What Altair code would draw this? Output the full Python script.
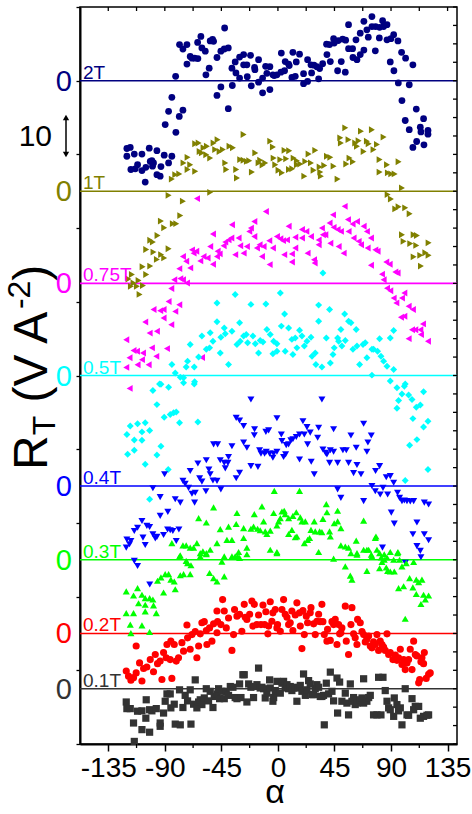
import altair as alt
import pandas as pd

series_names = ["2T", "1T", "0.75T", "0.5T", "0.4T", "0.3T", "0.2T", "0.1T"]
series_colors = ["#000080", "#808000", "#FF00FF", "#00FFFF", "#0000FF", "#00FF00", "#FF0000", "#000000"]
line_colors = ["#000080", "#808000", "#FF00FF", "#00FFFF", "#0000FF", "#00FF00", "#FF0000", "#333333"]
series_shapes = ["circle", "triangle-right", "triangle-left", "diamond", "triangle-down", "triangle-up", "circle", "square"]
series_sizes = [46, 52, 52, 50, 52, 52, 46, 38]
series_base = [180, 150, 125, 100, 70, 50, 30, 15]

# (alpha in degrees, R_T offset from the series' zero line)
pts_2T = [(-120.2,-18.4),(-117.5,-18.1),(-120.2,-20.5),(-114.3,-19.9),(-117.0,-24.1),(-113.5,-23.9),(-111.7,-22.8),(-108.2,-19.9),(-108.2,-24.4),(-105.1,-23.5),(-102.4,-18.3),(-101.6,-21.9),(-100.3,-21.7),(-99.0,-22.3),(-99.8,-23.2),(-96.3,-19.0),(-96.3,-25.5),(-93.7,-25.9),(-93.1,-23.3),(-90.5,-20.2),(-87.0,-22.3),(-84.4,-20.5),(-105.6,-27.5),(-89.7,-11.9),(-87.0,-8.3),(-84.4,-4.5),(-81.2,-14.0),(-78.5,-9.7),(-75.6,-8.0),(-81.4,1.2),(-78.3,9.8),(-75.6,8.6),(-72.4,9.8),(-72.4,4.5),(-69.8,6.6),(-68.4,6.1),(-66.3,6.1),(-63.7,6.0),(-63.9,10.4),(-61.3,12.0),(-60.5,8.9),(-57.8,8.0),(-57.3,1.6),(-54.7,3.4),(-53.9,10.8),(-52.0,11.2),(-51.2,10.7),(-48.5,6.3),(-48.5,-4.0),(-45.4,-1.7),(-42.4,14.3),(-45.4,8.0),(-42.7,8.6),(-39.5,8.9),(-39.5,-7.6),(-36.6,3.4),(-36.3,-1.3),(-34.0,5.1),(-33.4,2.1),(-30.5,6.4),(-30.5,0.7),(-27.3,7.1),(-27.3,4.3),(-24.7,4.3),(-24.4,1.1),(-21.8,6.9),(-21.2,-1.4),(-18.6,3.6),(-18.3,3.0),(-15.4,5.7),(-15.4,-0.4),(-12.2,0.7),(-12.2,-3.3),(-9.8,3.9),(-8.8,2.0),(-6.4,3.8),(-6.4,-2.4),(-4.0,1.6),(-2.9,1.4),(-0.8,1.6),(2.4,2.3),(2.7,7.5),(5.3,2.7),(5.8,5.2),(8.5,4.5),(9.0,4.1),(11.1,0.9),(11.9,7.7),(13.8,1.2),(14.6,5.1),(17.2,7.2),(20.4,1.9),(20.4,-0.8),(23.6,5.7),(23.6,-0.2),(26.3,4.3),(26.8,2.1),(28.7,4.2),(31.0,3.8),(32.4,0.5),(33.2,3.3),(35.6,4.6),(38.7,9.9),(39.0,7.1),(41.1,9.8),(41.7,5.2),(44.3,11.4),(44.8,10.2),(47.5,2.7),(48.0,10.9),(50.4,5.2),(51.5,11.3),(53.6,2.3),(53.9,11.0),(56.2,15.2),(56.2,8.7),(59.4,8.7),(59.7,6.3),(62.1,11.1),(62.9,5.7),(65.5,7.1),(65.5,12.9),(68.4,8.3),(68.4,16.1),(70.8,13.8),(71.9,11.8),(74.8,17.4),(74.8,14.7),(77.5,8.1),(77.7,14.7),(80.7,11.6),(80.9,14.5),(83.3,16.3),(84.1,14.7),(86.8,15.2),(86.8,11.1),(89.4,5.1),(89.9,11.4),(92.1,12.5),(92.3,2.7),(95.5,10.8),(95.8,-0.6),(98.4,7.7),(98.7,-5.4),(101.6,6.1),(101.3,-10.8),(104.5,-1.1),(104.5,-13.3),(107.4,4.3),(107.4,-18.1),(110.1,-7.7),(110.4,-16.5),(113.3,-12.6),(113.8,-13.9),(115.9,-10.3),(116.2,-17.4),(119.4,-13.5),(119.4,-14.5)]

pts_1T = [(-84.4,3.3),(-81.7,4.5),(-78.5,4.7),(-75.1,7.7),(-71.9,9.2),(-71.9,5.9),(-69.8,7.2),(-65.8,5.4),(-65.8,12.9),(-63.1,13.1),(-62.3,10.8),(-60.5,10.4),(-59.2,11.8),(-56.5,12.2),(-57.0,9.9),(-53.9,9.0),(-51.2,13.1),(-48.0,14.0),(-49.9,11.3),(-46.4,10.8),(-43.8,11.3),(-41.9,7.7),(-41.1,5.9),(-38.5,12.2),(-35.8,11.8),(-33.2,5.9),(-32.6,3.6),(-30.0,8.6),(-27.3,15.4),(-27.3,8.4),(-24.7,8.1),(-22.8,8.3),(-20.7,5.2),(-18.0,10.4),(-15.4,7.7),(-14.1,8.4),(-12.2,7.1),(-10.1,7.7),(-6.1,13.6),(-4.0,12.0),(-3.4,9.0),(-2.1,7.2),(0.5,5.7),(1.9,8.6),(3.2,5.0),(5.3,11.1),(6.6,8.8),(8.8,5.9),(9.0,11.0),(11.4,6.1),(12.5,9.0),(15.1,7.2),(15.1,8.3),(17.8,7.4),(21.0,4.1),(21.8,8.1),(24.4,10.1),(26.3,7.7),(28.4,5.7),(29.7,11.1),(33.2,6.6),(34.2,4.1),(33.7,5.2),(36.9,7.0),(39.0,9.5),(41.7,9.2),(44.3,6.8),(47.5,3.3),(49.6,14.5),(50.1,13.1),(53.6,17.2),(54.4,7.4),(56.2,14.0),(57.0,9.0),(59.7,8.0),(61.5,13.1),(62.9,12.2),(64.2,13.7),(66.1,16.3),(68.2,10.8),(70.8,13.6),(72.2,12.9),(74.8,16.7),(76.1,11.3),(78.8,12.7),(80.9,8.6),(80.9,5.2),(84.1,14.7),(86.8,7.2),(87.5,5.0),(90.2,4.7),(92.9,4.7),(96.0,8.0),(98.7,0.9),(87.3,-0.9),(-87.0,-1.1),(-53.9,-0.3),
          (-75.6,-2.7),(-77.7,-6.6),(-93.1,-8.1),(-90.5,-9.9),(-83.6,-8.8),(-80.9,-8.8),(-95.8,-12.0),(-101.6,-13.3),(-99.5,-13.8),(-104.8,-15.8),(-99.0,-16.5),(-92.9,-17.2),(-87.0,-15.6),(-90.5,-18.1),(-96.3,-18.5),(-101.6,-20.3),(-107.7,-20.5),(-104.8,-22.6),(-116.2,-22.6),(-118.9,-23.8),(-114.9,-24.9),(-110.9,-24.2),(-107.4,-25.6),(-112.2,-25.8),(-117.0,-25.8),(-110.1,-28.0),(89.9,-2.1),(93.4,-4.8),(96.0,-4.2),(101.3,-4.5),(104.8,-6.1),(98.7,-11.8),(108.0,-11.8),(110.6,-12.0),(119.9,-14.0),(100.0,-13.6),(105.3,-14.2),(110.1,-14.7),(113.3,-17.4),(117.3,-16.7),(119.9,-17.4),(108.0,-17.8),(113.8,-20.3)]

pts_075T = [(-120.7,-15.3),(-114.9,-18.2),(-118.1,-20.2),(-120.7,-22.8),(-112.2,-18.4),(-111.7,-22.1),(-108.2,-20.7),(-107.4,-18.9),(-102.9,-22.1),(-100.3,-17.5),(-96.8,-19.8),(-88.3,-17.7),(-105.6,-10.5),(-102.1,-13.5),(-96.3,-13.0),(-99.0,-7.1),(-93.7,-7.4),(-91.0,-7.1),(-91.0,-9.4),(-84.9,-11.2),(-81.7,-7.6),(-87.0,-4.9),(-78.5,-5.8),(-84.9,-1.4),(-82.5,1.0),(-77.7,1.3),(-75.6,1.0),(-72.4,0.1),(-78.5,4.0),(-75.6,7.3),(-73.0,6.0),(-69.8,4.2),(-68.4,9.1),(-67.1,8.2),(-65.0,8.7),(-61.8,6.1),(-59.2,7.3),(-56.0,6.9),(-51.7,5.2),(-53.9,10.0),(-51.7,13.4),(-48.5,7.3),(-48.0,8.7),(-46.4,8.0),(-43.2,10.2),(-41.9,11.2),(-39.3,11.8),(-37.1,12.3),(-36.6,15.9),(-34.0,7.8),(-31.3,12.3),(-30.0,10.2),(-27.3,8.2),(-24.7,10.0),(-22.8,14.1),(-21.5,15.0),(-18.8,12.7),(-18.8,16.8),(-16.7,9.6),(-14.6,10.5),(-12.7,7.3),(-11.4,10.0),(-9.6,19.5),(-6.9,11.6),(-6.6,5.1),(-4.0,9.6),(-0.8,12.7),(1.9,12.1),(4.0,11.6),(5.0,7.8),(7.2,11.8),(8.5,15.5),(11.1,8.0),(11.1,5.8),(13.8,12.5),(13.8,9.6),(19.1,14.6),(19.1,12.3),(22.6,14.1),(23.6,8.2),(26.3,12.7),(28.7,6.4),(29.2,5.5),(32.4,11.8),(32.4,10.5),(35.0,15.0),(35.8,13.2),(37.7,13.2),(41.1,16.4),(41.7,10.9),(43.8,18.6),(44.3,15.2),(47.5,14.6),(48.3,10.0),(50.1,14.1),(53.1,20.9),(52.3,8.2),(55.7,17.3),(56.2,14.1),(59.4,16.1),(60.2,12.3),(62.9,16.8),(64.2,11.4),(66.1,10.5),(68.2,15.5),(70.8,14.1),(71.4,9.6),(74.0,4.9),(74.0,12.3),(77.5,9.1),(79.3,8.7),(82.8,2.5),(84.1,1.0),(86.2,5.8),(88.9,5.2),(86.8,-1.3),(89.4,-2.0),(92.1,-4.0),(93.4,3.1),(95.2,2.8),(94.2,-5.3),(100.6,-2.6),(98.7,-4.0),(104.0,-6.2),(107.4,-7.1),(97.9,-9.2),(100.6,-8.9),(106.7,-12.6),(109.3,-12.6),(113.3,-12.6),(115.4,-11.0),(113.8,-13.9),(104.0,-15.0),(119.4,-15.7),(-118.0,-28.5),(-64.4,23.0),(-60.4,-20.1)]

pts_05T = [(-84.4,3.0),(-81.7,0.7),(-77.7,-0.5),(-75.1,-0.6),(-73.0,2.3),(-71.9,3.9),(-69.8,8.4),(-66.6,2.3),(-63.1,5.0),(-60.5,10.7),(-57.0,7.1),(-54.4,7.5),(-53.9,11.6),(-51.7,9.3),(-48.5,19.7),(-48.5,14.6),(-45.9,6.1),(-45.4,10.4),(-42.7,12.9),(-41.9,11.3),(-39.3,3.0),(-36.6,12.0),(-34.0,22.0),(-32.6,8.4),(-30.5,14.3),(-30.0,9.3),(-27.3,10.7),(-25.2,11.1),(-24.1,8.9),(-21.5,19.3),(-19.9,10.7),(-18.0,8.6),(-15.4,6.1),(-14.1,9.5),(-11.9,9.1),(-9.6,19.4),(-8.8,12.5),(-6.1,11.1),(-4.0,5.9),(-3.4,9.3),(-0.8,8.6),(-0.8,6.6),(1.9,22.4),(2.7,13.4),(5.3,16.7),(5.8,6.6),(8.5,12.9),(11.1,9.8),(11.9,5.7),(13.8,10.2),(15.1,7.5),(17.2,12.3),(19.1,10.7),(21.0,8.0),(23.1,9.3),(26.3,10.4),(27.1,5.2),(29.7,6.1),(30.2,3.0),(32.4,19.1),(32.4,14.7),(35.0,2.3),(38.5,10.2),(41.1,17.9),(41.7,3.4),(43.8,5.7),(44.8,7.5),(47.5,10.2),(48.3,9.3),(50.1,12.5),(50.9,8.0),(53.1,16.7),(53.6,9.5),(56.2,14.7),(58.1,14.3),(59.7,7.1),(62.3,12.5),(62.9,8.0),(65.0,3.0),(67.7,8.4),(69.5,8.9),(70.8,4.8),(74.8,7.1),(76.1,7.1),(79.3,6.6),(80.9,10.0),(82.0,5.2),(84.1,3.9),(86.8,2.5),(89.4,10.2),(92.1,12.2),(92.1,1.6),(74.8,0.1),(35.8,27.8),(-94.2,-2.3),(-66.6,-2.3),(101.3,-2.3),
           (-120.2,-16.0),(-117.5,-13.7),(-114.3,-17.5),(-119.6,-21.4),(-114.3,-20.3),(-111.7,-13.1),(-108.2,-15.3),(-108.2,-17.6),(-105.6,-12.8),(-102.1,-14.9),(-99.5,-4.1),(-96.3,-7.9),(-96.3,-21.6),(-93.1,-2.4),(-93.1,-19.2),(-90.5,-11.3),(-87.0,-3.2),(-85.7,-10.6),(-83.0,-10.1),(-80.9,-9.9),(-78.3,-12.8),(-75.1,-2.0),(-66.3,-1.7),(-63.7,-12.6),(-87.3,-25.5),(-105.6,-24.1),(-102.1,-33.6),(89.4,-1.5),(94.7,-3.3),(98.7,-5.0),(100.6,-2.9),(96.0,-6.8),(104.0,-5.3),(106.7,-6.5),(110.1,-8.6),(113.3,-8.0),(115.9,-4.4),(94.7,-8.9),(107.4,-11.7),(115.9,-14.0),(119.4,-12.4),(110.6,-17.4),(104.8,-18.9),(119.4,-25.5),(101.3,-28.5)]

pts_04T = [(-120.7,-16.7),(-118.1,-15.8),(-117.0,-14.9),(-120.2,-14.5),(-114.3,-12.2),(-111.7,-11.3),(-108.2,-9.5),(-107.4,-14.0),(-105.6,-16.0),(-104.3,-10.8),(-102.1,-11.1),(-99.5,-13.1),(-97.6,-14.2),(-96.3,-13.8),(-93.7,-8.1),(-91.0,-13.3),(-87.8,-11.8),(-85.7,-12.0),(-83.6,-12.2),(-80.9,-14.9),(-78.8,-11.8),(-99.5,-0.6),(-93.7,-3.0),(-90.2,3.2),(-87.6,-7.0),(-81.7,-3.6),(-77.7,-4.5),(-75.6,1.4),(-73.8,0.6),(-71.1,-0.5),(-69.8,4.1),(-68.4,-2.1),(-66.3,-4.5),(-65.8,-1.8),(-63.7,6.1),(-62.3,2.1),(-60.5,1.2),(-57.3,-1.4),(-57.0,7.0),(-54.9,4.5),(-53.9,3.2),(-51.7,1.5),(-51.2,11.3),(-48.0,11.3),(-48.5,1.4),(-45.4,-0.9),(-45.9,7.0),(-42.7,6.3),(-41.9,4.8),(-39.3,7.9),(-39.8,6.3),(-36.6,10.8),(-33.2,2.1),(-33.2,18.5),(-30.5,17.8),(-30.5,3.6),(-27.3,16.3),(-27.3,11.8),(-24.7,10.4),(-21.5,23.5),(-21.5,5.4),(-18.6,15.4),(-18.8,13.8),(-15.9,5.2),(-14.6,9.7),(-13.5,8.8),(-10.6,8.8),(-9.6,14.7),(-9.3,9.3),(-7.4,15.1),(-6.6,8.8),(-4.0,7.7),(-3.4,8.8),(-0.8,18.4),(-0.8,9.3),(2.7,14.0),(3.2,12.2),(4.5,7.9),(6.1,8.6),(6.6,11.1),(8.5,11.3),(10.3,12.4),(11.9,12.7),(14.6,13.3),(17.2,14.0),(17.2,7.2),(19.9,17.6),(21.0,14.0),(23.1,16.0),(23.6,11.3),(25.7,14.5),(26.5,6.6),(28.9,3.2),(31.6,13.1),(32.4,15.8),(35.0,23.5),(35.8,9.9),(37.9,9.0),(39.0,8.6),(41.7,9.7),(41.1,6.3),(44.3,15.4),(44.3,9.3),(47.5,6.3),(47.5,-0.9),(50.1,-3.2),(51.7,9.7),(54.4,9.7),(56.2,6.3),(58.1,13.7),(60.2,3.5),(62.3,10.4),(62.9,5.7),(66.1,3.2),(68.2,16.9),(68.2,-4.1),(70.8,9.3),(71.6,11.8),(74.3,13.7),(74.8,0.0),(77.5,-1.4),(77.7,4.1),(80.9,5.4),(81.4,-2.3),(83.6,-0.5),(86.2,2.4),(87.3,-2.3),(89.4,2.7),(90.2,-7.2),(92.1,0.9),(92.6,-10.2),(95.2,-1.8),(96.8,-3.2),(98.7,-4.1),(100.6,-3.9),(102.7,-4.1),(105.3,-4.2),(108.0,-4.1),(110.6,-9.9),(107.4,-13.1),(110.6,-16.3),(113.8,-19.3),(113.3,-17.6),(116.5,-4.5),(119.9,-5.0),(116.5,-13.1),(119.9,-14.7),(-111.7,-21.7),(-114.3,-20.3),(-102.0,-26.7),(83.2,-16.7),(101.4,-20.8)]

pts_03T = [(-84.4,4.5),(-78.3,0.9),(-75.6,3.9),(-73.0,3.9),(-69.8,3.3),(-67.1,3.3),(-64.5,4.5),(-63.1,11.3),(-61.8,0.9),(-59.7,2.3),(-57.0,10.1),(-57.0,1.8),(-53.9,2.7),(-51.2,14.2),(-48.5,4.5),(-45.9,8.3),(-42.7,0.9),(-40.6,5.4),(-39.3,9.0),(-36.6,5.4),(-34.0,0.9),(-33.2,9.7),(-32.6,12.7),(-30.5,0.5),(-27.3,8.6),(-27.3,5.9),(-24.7,3.3),(-21.5,8.4),(-19.4,9.0),(-18.8,12.4),(-16.2,8.4),(-14.1,8.0),(-12.7,14.5),(-11.4,10.4),(-10.1,7.7),(-8.8,7.0),(-6.1,2.7),(-6.1,7.9),(-3.4,12.7),(-2.9,18.7),(-0.8,1.8),(-0.8,9.3),(0.5,10.4),(1.9,11.3),(3.2,13.1),(5.0,13.3),(5.8,12.4),(8.5,7.0),(8.5,11.3),(11.1,8.1),(11.9,11.9),(13.8,6.1),(14.6,12.9),(15.1,6.3),(17.2,18.7),(17.8,11.5),(19.1,10.4),(21.0,4.5),(21.8,10.4),(23.6,5.4),(25.2,5.9),(26.3,8.1),(28.9,10.4),(29.7,7.7),(32.4,2.1),(33.2,7.7),(35.0,7.5),(35.8,11.1),(38.5,15.1),(39.0,12.9),(41.1,7.7),(41.7,6.3),(44.3,0.3),(44.8,9.9),(47.5,13.3),(47.5,10.4),(50.1,8.6),(50.1,3.9),(53.6,3.6),(56.2,3.3),(58.1,1.8),(62.3,5.2),(62.9,1.4),(68.2,10.6),(68.2,2.7),(70.8,2.7),(74.3,1.4),(77.5,5.9),(78.0,6.3),(80.9,1.8),(82.2,0.6),(84.6,1.5),(86.8,0.6),(89.4,2.1),(92.1,0.0),(95.2,1.8),(96.8,0.0),(108.0,-0.6),
           (-120.7,-8.6),(-114.9,-9.7),(-111.7,-7.7),(-108.2,-9.5),(-105.6,-10.4),(-102.1,-10.4),(-99.5,-10.8),(-110.9,-11.8),(-105.6,-12.2),(-99.0,-12.4),(-96.8,-14.5),(-120.7,-14.5),(-114.9,-14.5),(-105.6,-14.0),(-117.5,-17.6),(-108.2,-17.8),(-102.1,-19.6),(-117.0,-19.9),(-95.8,-5.7),(-93.1,-4.8),(-89.7,-3.9),(-87.0,-3.9),(-85.2,-5.4),(-82.5,-5.9),(-77.7,-4.2),(-75.1,-3.9),(-71.9,-0.9),(-69.2,-1.5),(-69.8,-3.9),(-81.7,-8.0),(-91.0,-8.9),(-77.7,1.2),(-73.0,-0.3),(-61.8,1.8),(-57.0,1.5),(-54.4,-3.6),(-51.2,-5.0),(-48.5,-5.9),(-42.7,-4.5),(-44.6,-0.5),(-36.6,0.9),(-31.3,2.1),(-32.1,0.9),(-24.7,1.5),(-0.8,2.1),(53.6,-1.8),(57.6,-4.3),(58.9,-5.4),(62.9,1.8),(70.8,-3.0),(72.2,2.7),(74.8,0.9),(78.8,2.7),(80.9,-2.3),(82.8,-0.6),(84.6,0.0),(86.2,-2.1),(87.3,-3.0),(89.4,-3.2),(92.6,-3.2),(95.5,2.1),(98.7,-1.8),(102.1,-0.9),(96.0,-7.7),(100.0,-7.2),(104.8,-5.0),(107.4,-7.5),(110.1,-5.4),(112.0,-6.1),(114.6,-5.4),(110.1,-9.3),(115.9,-9.5),(119.9,-9.7),(113.8,-12.0),(117.3,-10.8),(101.3,-16.0)]

pts_02T = [(-120.7,-10.2),(-118.9,-11.6),(-117.0,-12.7),(-114.9,-12.0),(-112.8,-10.7),(-110.1,-8.0),(-108.2,-12.9),(-112.8,-3.4),(-106.9,-9.5),(-104.3,-9.1),(-101.6,-7.1),(-99.0,-10.4),(-97.6,-5.7),(-95.8,-8.2),(-93.7,-7.5),(-92.3,-12.5),(-91.0,-5.2),(-88.9,-6.6),(-88.3,-3.0),(-85.7,-7.1),(-84.4,-12.2),(-85.2,-2.1),(-82.5,-3.0),(-80.9,-7.5),(-79.1,-6.6),(-76.4,-2.5),(-75.1,-4.8),(-72.4,2.3),(-71.9,-1.2),(-69.8,-4.3),(-68.4,-0.3),(-65.8,0.5),(-64.5,-6.6),(-63.1,-3.4),(-61.8,-0.1),(-60.5,2.9),(-58.6,3.2),(-57.0,0.8),(-56.5,-3.0),(-54.4,1.5),(-52.5,-2.1),(-51.2,2.6),(-48.5,6.1),(-48.5,0.2),(-48.0,3.2),(-45.4,2.4),(-44.0,9.2),(-42.7,6.1),(-41.1,1.5),(-39.3,4.2),(-36.6,-4.6),(-35.3,-0.3),(-34.5,6.5),(-32.6,4.7),(-30.5,5.2),(-28.7,0.6),(-26.8,7.9),(-26.0,4.4),(-24.7,3.8),(-22.5,5.2),(-20.7,8.8),(-19.9,2.0),(-18.8,7.9),(-16.7,2.4),(-15.4,5.0),(-13.5,2.4),(-11.9,7.7),(-10.6,2.4),(-9.6,5.9),(-8.0,-0.1),(-7.4,2.0),(-6.1,8.6),(-4.8,3.3),(-4.0,5.6),(-2.1,6.5),(-0.8,1.5),(-0.3,2.4),(1.9,0.6),(3.2,6.5),(4.5,9.2),(5.8,5.2),(7.2,4.4),(8.5,2.4),(9.8,2.9),(11.1,6.1),(11.9,0.8),(13.8,5.0),(15.1,8.3),(17.2,5.6),(17.8,2.0),(19.1,-4.1),(19.9,6.2),(21.0,-0.3),(22.6,4.7),(23.6,2.9),(25.7,5.6),(26.3,7.0),(28.4,2.6),(29.7,-0.3),(31.0,3.3),(32.4,5.2),(33.7,3.2),(35.0,7.9),(35.8,3.2),(36.9,-0.3),(39.0,-2.1),(39.5,1.1),(41.7,-1.9),(43.0,3.2),(44.3,2.4),(45.6,3.8),(47.0,-3.0),(48.3,2.4),(49.1,-0.1),(50.1,0.2),(50.9,1.5),(53.6,7.4),(54.4,-2.1),(56.2,-5.7),(58.1,2.4),(58.9,7.0),(60.2,-0.1),(61.5,-1.2),(62.9,-3.0),(63.4,3.8),(65.5,2.9),(66.9,0.5),(68.2,-0.3),(69.5,-2.3),(70.8,-1.6),(72.2,-0.7),(73.5,-3.4),(74.8,-3.9),(76.1,-2.3),(77.5,-3.0),(78.8,-0.3),(80.1,-4.6),(81.4,-2.1),(82.8,-3.0),(84.1,-3.7),(85.4,-4.6),(86.8,-0.1),(88.1,-5.7),(89.4,-5.2),(91.5,-7.1),(93.4,-5.9),(94.7,-7.3),(96.0,-6.6),(97.4,-4.3),(98.7,-8.4),(100.0,-7.1),(101.3,-9.8),(102.7,-8.0),(104.0,-7.1),(105.3,-4.3),(106.7,-9.8),(108.0,-2.1),(109.3,-5.7),(110.6,-6.1),(112.0,-13.4),(112.8,-12.5),(113.8,-7.7),(114.6,-6.6),(115.9,-8.2),(116.5,-5.2),(118.0,-12.2),(119.9,-11.1),(121.2,-10.7)]

pts_01T = [(-120.7,-3.6),(-120.2,-5.4),(-117.5,-5.4),(-114.9,-9.3),(-111.7,-6.1),(-108.2,-6.0),(-108.2,-11.1),(-105.1,-8.0),(-104.8,-3.0),(-102.1,-5.7),(-102.1,-11.8),(-100.3,-6.0),(-96.8,-5.4),(-93.7,-9.3),(-93.7,-10.2),(-91.0,-6.6),(-89.7,-3.4),(-88.3,-1.4),(-85.7,-1.4),(-85.2,-5.2),(-82.5,-4.2),(-81.7,-9.6),(-78.3,-0.3),(-77.7,-9.8),(-75.6,-5.1),(-73.8,-1.8),(-71.9,-3.3),(-69.8,-0.3),(-69.2,-9.6),(-67.1,-4.2),(-65.8,2.4),(-64.5,-5.2),(-63.1,-3.6),(-61.8,-3.0),(-60.5,-4.3),(-58.6,-2.5),(-57.0,0.0),(-55.2,-3.3),(-53.9,-0.7),(-51.7,-5.1),(-50.7,-2.1),(-48.5,-1.4),(-47.2,0.0),(-46.4,-2.7),(-44.6,-0.7),(-42.7,-2.7),(-41.1,-0.7),(-39.3,-1.8),(-37.9,0.6),(-35.8,0.4),(-34.0,-2.4),(-32.6,-2.7),(-30.5,1.3),(-29.4,-2.4),(-27.9,3.8),(-26.8,3.8),(-24.7,-3.6),(-23.3,1.3),(-21.5,0.4),(-19.4,-2.4),(-18.8,0.6),(-16.7,1.1),(-15.4,5.6),(-14.1,0.2),(-12.7,0.4),(-11.4,0.0),(-10.1,-2.5),(-8.8,-1.2),(-6.6,2.4),(-6.1,0.2),(-4.0,-3.4),(-3.4,-2.4),(-2.1,-0.5),(-0.8,2.0),(1.9,-1.2),(3.2,1.5),(4.5,2.0),(5.8,0.2),(7.2,1.1),(8.5,0.0),(9.8,0.6),(11.1,-0.5),(12.5,0.2),(13.8,0.4),(15.1,-3.4),(16.4,0.2),(17.8,0.9),(19.1,-0.7),(20.4,4.0),(21.8,-1.8),(23.1,-0.3),(24.4,2.2),(25.7,1.3),(27.1,-1.6),(28.4,-1.6),(29.7,0.0),(31.0,1.1),(32.4,0.4),(33.7,-2.1),(35.0,-2.1),(36.3,-1.8),(36.9,-9.8),(38.5,1.5),(40.3,-1.4),(41.7,4.5),(43.0,-0.7),(44.3,-3.3),(47.0,2.9),(47.5,-6.6),(49.1,1.8),(50.9,-3.4),(53.6,-1.2),(54.9,-3.9),(56.2,-7.1),(57.6,1.3),(58.9,-3.4),(60.2,-2.4),(61.5,-4.3),(62.9,-3.9),(65.5,-3.0),(66.9,-2.5),(68.2,2.7),(68.2,-3.9),(70.8,-3.4),(72.2,-2.4),(73.5,-1.8),(76.1,-7.1),(78.8,-7.1),(80.1,3.1),(82.0,-7.1),(83.6,3.1),(85.4,-0.5),(86.8,-3.4),(88.1,-5.2),(89.4,-5.7),(92.1,-7.5),(92.6,-2.5),(94.7,-4.3),(96.0,-6.0),(97.4,-5.2),(98.7,-9.8),(101.3,0.0),(102.7,-7.1),(104.0,-7.2),(106.7,-2.7),(108.0,-5.7),(109.3,-4.8),(112.0,-4.8),(113.3,-8.0),(115.9,-7.5),(118.6,-7.2),(119.9,-7.1),(-114.3,-14.3)]

all_pts = [pts_2T, pts_1T, pts_075T, pts_05T, pts_04T, pts_03T, pts_02T, pts_01T]

x_major = [-135, -90, -45, 0, 45, 90, 135]
x_minor = [-112.5, -67.5, -22.5, 22.5, 67.5, 112.5]
x_top = [-135, -112.5, -90, -67.5, -45, -22.5, 0, 22.5, 45, 67.5, 90, 112.5, 135]
y_ticks = list(range(0, 201, 5))
scale_bar = (160, 170)
scale_bar_label = "10"

# ---------------------------------------------------------------
W, H = 377, 737
FONT = "Liberation Sans"

rows = []
for name, base, pts in zip(series_names, series_base, all_pts):
    for a, r in pts:
        rows.append({"alpha": a, "rt": r, "y": base + r, "series": name})
df = pd.DataFrame(rows)
df_base = pd.DataFrame({"series": series_names, "base": series_base})

xscale = alt.Scale(domain=[-157.5, 142.5], nice=False, zero=False)
yscale = alt.Scale(domain=[0, 200], nice=False, zero=False)
cscale = alt.Scale(domain=series_names, range=series_colors)
lscale = alt.Scale(domain=series_names, range=line_colors)

xaxis = alt.Axis(values=x_major, title=None, grid=False, tickSize=7, tickWidth=1.5,
                 domainWidth=2, domainColor="black", tickColor="black",
                 labelFont=FONT, labelFontSize=28, labelColor="black", labelPadding=3,
                 labelExpr="datum.value < 0 ? '-' + abs(datum.value) : '' + datum.value")
yaxis = alt.Axis(values=y_ticks, title=None, grid=False, labels=False, tickSize=4,
                 tickWidth=1.3, domainWidth=2, domainColor="black", tickColor="black")

points = alt.Chart(df).mark_point(filled=True, opacity=1, strokeWidth=0).encode(
    x=alt.X("alpha:Q", scale=xscale, axis=xaxis),
    y=alt.Y("y:Q", scale=yscale, axis=yaxis),
    color=alt.Color("series:N", scale=cscale, legend=None),
    shape=alt.Shape("series:N", scale=alt.Scale(domain=series_names, range=series_shapes), legend=None),
    size=alt.Size("series:N", scale=alt.Scale(domain=series_names, range=series_sizes), legend=None),
)

zero_lines = alt.Chart(df_base).mark_rule(strokeWidth=1.6).encode(
    y=alt.Y("base:Q", scale=yscale),
    color=alt.Color("series:N", scale=lscale, legend=None),
)

series_labels = alt.Chart(df_base).mark_text(
    align="left", baseline="alphabetic", dx=3, dy=-2, font=FONT, fontSize=19
).encode(
    x=alt.value(0), y=alt.Y("base:Q", scale=yscale), text="series:N",
    color=alt.Color("series:N", scale=cscale, legend=None),
)

zero_labels = alt.Chart(df_base).mark_text(
    align="right", baseline="middle", font=FONT, fontSize=29, dy=1
).encode(
    x=alt.value(-8), y=alt.Y("base:Q", scale=yscale), text=alt.value("0"),
    color=alt.Color("series:N", scale=cscale, legend=None),
)

df_bar = pd.DataFrame({"lo": [scale_bar[0]], "hi": [scale_bar[1]], "mid": [(scale_bar[0] + scale_bar[1]) / 2],
                       "label": [scale_bar_label]})
bar_rule = alt.Chart(df_bar).mark_rule(color="black", strokeWidth=1.5).encode(
    x=alt.value(-14), y=alt.Y("lo:Q", scale=yscale), y2="hi:Q")
bar_top = alt.Chart(df_bar).mark_point(shape="triangle-up", filled=True, color="black", size=40, opacity=1).encode(
    x=alt.value(-14), y=alt.Y("hi:Q", scale=yscale))
bar_bot = alt.Chart(df_bar).mark_point(shape="triangle-down", filled=True, color="black", size=40, opacity=1).encode(
    x=alt.value(-14), y=alt.Y("lo:Q", scale=yscale))
bar_text = alt.Chart(df_bar).mark_text(align="right", baseline="middle", font=FONT, fontSize=30, color="black", dy=1).encode(
    x=alt.value(-28), y=alt.Y("mid:Q", scale=yscale), text="label:N")

df_top = pd.DataFrame({"v": x_top})
top_ticks = alt.Chart(df_top).mark_rule(color="black", strokeWidth=1.3).encode(
    x=alt.X("v:Q", scale=xscale), y=alt.value(0), y2=alt.value(4))
df_minor = pd.DataFrame({"v": x_minor})
minor_ticks = alt.Chart(df_minor).mark_rule(color="black", strokeWidth=1.3).encode(
    x=alt.X("v:Q", scale=xscale), y=alt.value(H), y2=alt.value(H + 4))
df_right = pd.DataFrame({"v": y_ticks})
right_ticks = alt.Chart(df_right).mark_rule(color="black", strokeWidth=1.3).encode(
    y=alt.Y("v:Q", scale=yscale), x=alt.value(W - 4), x2=alt.value(W))

# axis titles
x_title = alt.Chart(df_bar).mark_text(align="center", baseline="alphabetic", font=FONT, fontSize=34, color="black").encode(
    x=alt.value(195), y=alt.value(H + 59), text=alt.value("α"))

def ttext(t, fs, xpos, ypos):
    return alt.Chart(df_bar).mark_text(align="left", baseline="alphabetic", angle=270, font=FONT,
                                       fontSize=fs, color="black").encode(
        x=alt.value(xpos), y=alt.value(ypos), text=alt.value(t))

F1, F2 = 48, 32
y0 = 463
bx = -33
w_R = 0.722 * F1
w_T = 0.611 * F2
w_sp = 0.278 * F1
w_mid = (0.333 + 0.667 + 0.278 + 0.667) * F1
w_sup = (0.333 + 0.556) * F2
ytitle = [
    ttext("R", F1, bx, y0),
    ttext("T", F2, bx + 8, y0 - w_R),
    ttext("(V A", F1, bx, y0 - w_R - w_T - w_sp),
    ttext("-2", F2, bx - 17, y0 - w_R - w_T - w_sp - w_mid),
    ttext(")", F1, bx, y0 - w_R - w_T - w_sp - w_mid - w_sup),
]

chart = alt.layer(
    zero_lines, points, series_labels, zero_labels, bar_rule, bar_top, bar_bot, bar_text,
    top_ticks, minor_ticks, right_ticks, x_title, *ytitle
).properties(
    width=W, height=H,
    padding={"left": 80, "top": 7, "right": 15, "bottom": 63},
    autosize=alt.AutoSizeParams(type="none"),
    background="white",
).configure_view(stroke="black", strokeWidth=1.5)

chart.save("out.html", embed_options={"renderer": "svg", "actions": False})
